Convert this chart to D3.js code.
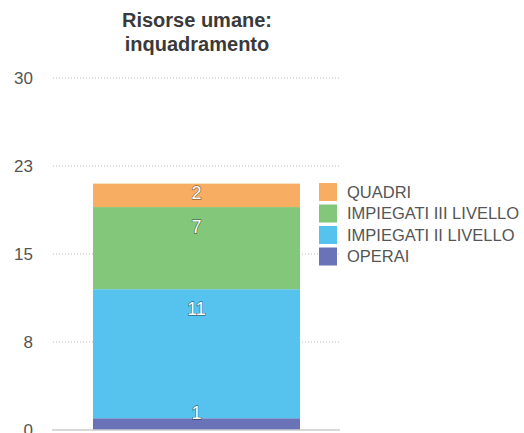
<!DOCTYPE html>
<html>
<head>
    <meta charset="utf-8">
    <title>Risorse umane: inquadramento</title>
    <style type="text/css">
        body { margin: 0; background: #fff; font-family: "Liberation Sans", Arial, sans-serif; }
        .axis text { font-size: 17px; fill: #555; }
        .grid line { stroke: #bbb; stroke-dasharray: 1,2; }
        .seg-label { font-size: 18px; fill: #fff; text-anchor: middle; dominant-baseline: central;
                     paint-order: stroke; stroke: rgba(0,0,0,0.45); stroke-width: 1.3px; }
    </style>
</head>
<body>
<script src="https://cdn.jsdelivr.net/npm/d3@7"></script>
<script>
    // data
    var category = "Totale";
    var seriesNames = ["OPERAI", "IMPIEGATI II LIVELLO", "IMPIEGATI III LIVELLO", "QUADRI"];
    var seriesValues = [1, 11, 7, 2];
    var seriesColors = ["#6A72B8", "#56C2EE", "#82C77A", "#F7AE63"];
    var tickValues = [0, 7.5, 15, 22.5, 30];
    var tickLabels = ["0", "8", "15", "23", "30"];

    var W = 524, H = 433;
    var margin = { top: 78, right: 184, bottom: 3, left: 53 },
        width = W - margin.left - margin.right,
        height = H - margin.top - margin.bottom;

    var svg = d3.select("body").append("svg")
        .attr("width", W)
        .attr("height", H);

    // title
    svg.append("text")
        .attr("x", 197).attr("y", 27)
        .attr("text-anchor", "middle")
        .style("font-size", "20px").style("fill", "#3a3a3a").style("font-weight", "bold")
        .selectAll("tspan")
        .data(["Risorse umane:", "inquadramento"])
        .enter().append("tspan")
        .attr("x", 197)
        .attr("dy", function (d, i) { return i ? 24 : 0; })
        .text(function (d) { return d; });

    var g = svg.append("g")
        .attr("transform", "translate(" + margin.left + "," + margin.top + ")");

    var x = d3.scaleBand().domain([category]).range([0, width]).paddingInner(0).paddingOuter(0.193);
    var y = d3.scaleLinear().domain([0, 30]).range([height, 0]);

    // grid
    g.append("g").attr("class", "grid")
        .selectAll("line")
        .data(tickValues.filter(function (d) { return d > 0; }))
        .enter().append("line")
        .attr("x1", 0).attr("x2", width)
        .attr("y1", function (d) { return y(d); })
        .attr("y2", function (d) { return y(d); });

    // y axis
    var yAxis = d3.axisLeft(y)
        .tickValues(tickValues)
        .tickSize(0)
        .tickPadding(20)
        .tickFormat(function (d, i) { return tickLabels[i]; });
    g.append("g").attr("class", "axis").call(yAxis)
        .call(function (s) { s.select(".domain").remove(); });

    // stacked bar
    var row = {};
    seriesNames.forEach(function (n, i) { row[n] = seriesValues[i]; });
    var stack = d3.stack().keys(seriesNames)([row]);

    g.selectAll(".seg")
        .data(stack)
        .enter().append("rect")
        .attr("class", "seg")
        .attr("x", x(category))
        .attr("width", x.bandwidth())
        .attr("y", function (d) { return y(d[0][1]); })
        .attr("height", function (d) { return y(d[0][0]) - y(d[0][1]); })
        .style("fill", function (d, i) { return seriesColors[i]; });

    // baseline
    g.append("line")
        .attr("x1", -1).attr("x2", width)
        .attr("y1", y(0)).attr("y2", y(0))
        .style("stroke", "#ccc").style("stroke-width", 1.5);

    // value labels, drawn over all segments
    g.selectAll(".seg-label")
        .data(stack)
        .enter().append("text")
        .attr("class", "seg-label")
        .attr("x", x(category) + x.bandwidth() / 2)
        .attr("y", function (d) {
            var top = y(d[0][1]), bot = y(d[0][0]);
            var c = (bot - top) > 40 ? top + 20 : (top + bot) / 2 - 2;
            return Math.min(c, height - 17);
        })
        .text(function (d, i) { return seriesValues[i]; });

    // legend
    var legend = svg.append("g").attr("transform", "translate(319,183)");
    var items = legend.selectAll("g")
        .data(seriesNames.slice().reverse())
        .enter().append("g")
        .attr("transform", function (d, i) { return "translate(0," + (i * 21.5) + ")"; });
    items.append("rect")
        .attr("width", 18).attr("height", 18)
        .style("fill", function (d) { return seriesColors[seriesNames.indexOf(d)]; });
    items.append("text")
        .attr("x", 28).attr("y", 9)
        .attr("dy", "0.35em")
        .style("font-size", "16.5px").style("fill", "#555")
        .text(function (d) { return d; });
</script>
</body>
</html>
